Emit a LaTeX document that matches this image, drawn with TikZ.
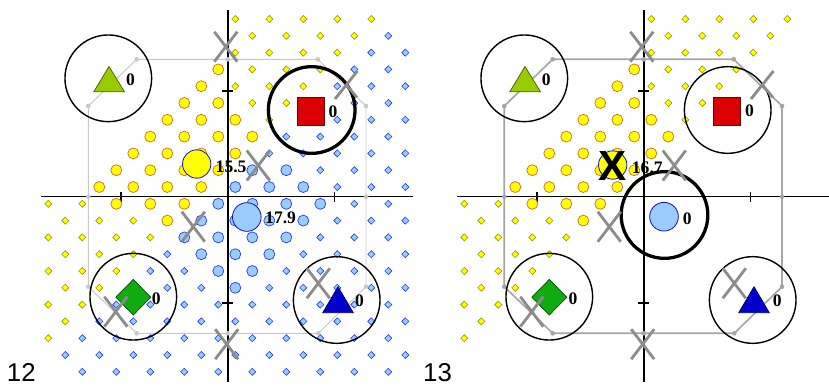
\documentclass[tikz,border=0pt]{standalone}
\usepackage{fontspec}
\setmainfont{Liberation Serif}
\setsansfont{Liberation Sans}
\usepackage{tikz}
\usetikzlibrary{shapes.geometric}
\definecolor{dotyellow}{RGB}{255,255,0}
\definecolor{dotolive}{RGB}{150,150,0}
\definecolor{skyfill}{RGB}{153,204,255}
\definecolor{skyedge}{RGB}{40,60,230}
\definecolor{orangeedge}{RGB}{210,110,20}
\definecolor{marksgray}{RGB}{140,140,140}
\definecolor{hullpale}{RGB}{200,200,200}
\definecolor{hulldark}{RGB}{165,165,165}
\definecolor{olivegreen}{RGB}{153,204,0}
\definecolor{olivedark}{RGB}{70,90,0}
\definecolor{protored}{RGB}{221,0,0}
\definecolor{reddark}{RGB}{110,0,0}
\definecolor{protogreen}{RGB}{17,170,17}
\definecolor{greendark}{RGB}{0,80,0}
\definecolor{protoblue}{RGB}{0,0,204}
\definecolor{bluedark}{RGB}{0,0,100}
\definecolor{protoedge}{RGB}{20,20,170}

% grid of small class dots, #1 prefix, #2 = 1 also the blue ones
\newcommand{\dotfield}[2]{%
  \foreach \m in {0,...,21}{
    \foreach \k in {-11,...,10}{
      \pgfmathtruncatemacro{\sumkm}{\k+\m}
      \pgfmathtruncatemacro{\showdot}{and(and(mod(\sumkm+22,2)==0,or(\k>-1,\m>10)),not(or(and(\m==0,\k==10),and(\m==21,\k==-11))))}
      \ifnum\showdot=1
        \ifnum\sumkm<9
          \node[yeldot] (#1y\k x\m) at ({235.3+17*\k},{19+16.8*\m}) {};
        \else\ifnum#2=1
          \node[bludot] (#1b\k x\m) at ({235.3+17*\k},{19+16.8*\m}) {};
        \fi\fi
      \fi
    }
  }
}
% data points of the yellow class
\newcommand{\orangedata}[1]{%
  \foreach \k/\m in {-1/3,-2/4,-3/5,-1/5,-4/6,-2/6,0/6,-5/7,-3/7,-1/7,1/7,
      -6/8,-4/8,-2/8,0/8,-7/9,-5/9,-3/9,-1/9,-8/10,-6/10,-4/10,-2/10,
      -7/11,-5/11,-3/11,-4/12}
    \node[orgdata] (#1o\k x\m) at ({235.3+17*\k},{19+16.8*\m}) {};
}
% data points of the blue class
\newcommand{\skydata}[1]{%
  \foreach \k/\m in {1/9,3/9,0/10,2/10,4/10,-1/11,1/11,3/11,5/11,-2/12,0/12,2/12,4/12,
      -3/13,-1/13,1/13,3/13,-2/14,0/14,2/14,-1/15,1/15,0/16}
    \node[skydata] (#1s\k x\m) at ({235.3+17*\k},{19+16.8*\m}) {};
}
\newcommand{\axeslines}{%
  \draw[axisline] (41,196.7) -- (413,196.7);
  \draw[axisline] (228,10) -- (228,382);
  \foreach \t in {121,334.5} \draw[axisline] (\t,192) -- (\t,201.5);
  \foreach \t in {91,303} \draw[axisline] (222,\t) -- (233,\t);
}
% octagon, #1 prefix, #2 colour, #3 width
\newcommand{\hullshape}[3]{%
  \foreach \hx/\hy [count=\i] in {136.7/59.3,227.7/59.3,317.7/59.3,366/106,366/196.7,366/286.7,
      318.3/333.3,227.7/333.3,136.7/333.3,88.3/286.7,88.3/196.7,88.3/106}
    \coordinate (#1h\i) at (\hx,\hy);
  \draw[draw=#2,line width=#3] (#1h1) -- (#1h3) -- (#1h4) -- (#1h6) -- (#1h7) -- (#1h9)
    -- (#1h10) -- (#1h12) -- cycle;
  \foreach \i in {1,...,12} \fill[#2] (#1h\i) circle[radius=2pt];
}
\newcommand{\protoshapes}{%
  \filldraw[fill=olivegreen,draw=olivedark,line width=0.6pt] (109,66.5) -- (124.5,91.7) -- (93.8,91.7) -- cycle;
  \filldraw[fill=protored,draw=reddark,line width=0.6pt] (297.7,97.3) rectangle (324,125);
  \filldraw[fill=protogreen,draw=greendark,line width=0.6pt] (133.3,279.4) -- (150.8,297.2) -- (133.3,315) -- (115.8,297.2) -- cycle;
  \filldraw[fill=protoblue,draw=bluedark,line width=0.6pt] (338,286.7) -- (353.3,312.7) -- (322.7,312.7) -- cycle;
}
\newcommand{\crossmarks}{%
  \foreach \cx/\cy in {225.8/46.7,258.3/165.5,193.3/226.7,115.8/311.7,318.3/283.3,226.7/344.2}
    \draw[xstroke] (\cx,\cy) +(-11.5,-15) -- +(11.5,15) +(-11.5,15) -- +(11.5,-15);
  \draw[xstroke] (335,99) -- (357.5,71) (346.5,85) -- (357,97.5);
}

\begin{document}
\begin{tikzpicture}[x=0.03cm, y=-0.03cm,
    smalldot/.style={diamond,draw,line width=0.5pt,inner sep=0pt,minimum size=0.22cm},
    yeldot/.style={smalldot,fill=dotyellow,draw=dotolive},
    bludot/.style={smalldot,fill=skyfill,draw=skyedge},
    datadot/.style={circle,line width=0.6pt,inner sep=0pt,minimum size=0.33cm},
    orgdata/.style={datadot,fill=dotyellow,draw=orangeedge},
    skydata/.style={datadot,fill=skyfill,draw=skyedge},
    axisline/.style={draw=black,line width=0.9pt},
    ring/.style={circle,draw=black,line width=1.2pt,inner sep=0pt,minimum size=2.6cm},
    boldring/.style={ring,line width=2.8pt},
    yelproto/.style={circle,fill=dotyellow,draw=protoedge,line width=0.7pt,inner sep=0pt,minimum size=0.85cm},
    skyproto/.style={circle,fill=skyfill,draw=protoedge,line width=0.7pt,inner sep=0pt,minimum size=0.86cm},
    xstroke/.style={draw=marksgray,line width=2.4pt},
    val/.style={font=\fontsize{15}{15}\selectfont\bfseries,inner sep=0pt,anchor=west},
    panelno/.style={font=\fontsize{22}{22}\selectfont\sffamily,inner sep=0pt,anchor=base west}]

  \useasboundingbox (0,0) rectangle (829,386);

  % panel 12
  \axeslines
  \dotfield{a}{1}
  \orangedata{a}
  \skydata{a}
  \hullshape{a}{hullpale}{0.8pt}
  \node[ring] (aringtri) at (108.3,78.3) {};
  \node[boldring] (aringsq) at (311.7,110) {};
  \node[ring] (aringdia) at (133.3,296.7) {};
  \node[ring] (aringblu) at (336.7,300) {};
  \protoshapes
  \node[yelproto] (aprotoyel) at (196.7,164) {};
  \node[skyproto] (aprotosky) at (246.8,217) {};
  \crossmarks
  \node[val] (avaltri) at (126,79.5) {0};
  \node[val] (avalsq) at (328.3,111.7) {0};
  \node[val] (avalyel) at (215.5,166.5) {15.5};
  \node[val] (avalsky) at (265,218.3) {17.9};
  \node[val] (avaldia) at (151.7,298.3) {0};
  \node[val] (avalblu) at (355,300.7) {0};
  \node[panelno] (apanel) at (6.7,381.7) {12};

  % panel 13
  \begin{scope}[shift={(416,0)}]
    \axeslines
    \dotfield{b}{0}
    \orangedata{b}
    \hullshape{b}{hulldark}{1.4pt}
    \node[ring] (bringtri) at (108.3,78.3) {};
    \node[ring] (bringsq) at (311.7,110) {};
    \node[boldring] (bringsky) at (248.5,215) {};
    \node[ring] (bringdia) at (133.3,296.7) {};
    \node[ring] (bringblu) at (336.7,300) {};
    \protoshapes
    \node[yelproto] (bprotoyel) at (196.7,165) {};
    \node[font=\fontsize{36}{36}\selectfont\sffamily\bfseries,inner sep=0pt] (bcross) at (196.5,165.8) {X};
    \node[skyproto] (bprotosky) at (248,216.7) {};
    \crossmarks
    \node[val] (bvaltri) at (125.7,79.3) {0};
    \node[val] (bvalsq) at (329,111.2) {0};
    \node[val] (bvalyel) at (215.7,167.5) {16.7};
    \node[val] (bvalsky) at (266.7,218.3) {0};
    \node[val] (bvaldia) at (152.3,298.3) {0};
    \node[val] (bvalblu) at (356.7,301) {0};
    \node[panelno] (bpanel) at (7,381.7) {13};
  \end{scope}
\end{tikzpicture}
\end{document}
